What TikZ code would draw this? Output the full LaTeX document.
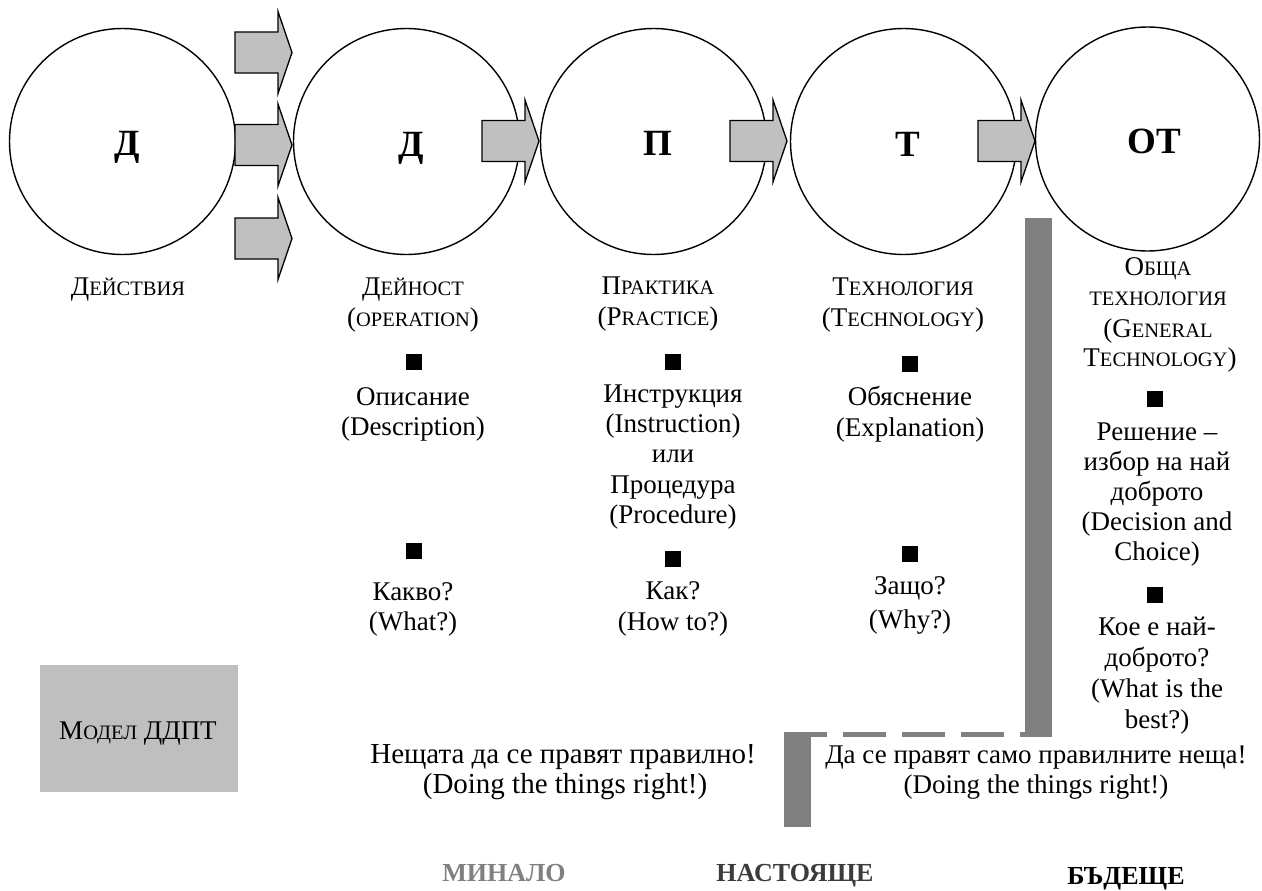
\documentclass[tikz,border=0pt]{standalone}
\usepackage{fontspec}
\setmainfont{Liberation Serif}
\definecolor{arrowgray}{RGB}{192,192,192}
\definecolor{boxgray}{RGB}{191,191,191}
\definecolor{bargray}{RGB}{128,128,128}
\definecolor{pastgray}{RGB}{128,128,128}
\definecolor{nowgray}{RGB}{60,60,60}
% small capitals faked with smaller upper-case letters
\newcommand\lowcaps[1]{{\fontsize{20.5}{30}\selectfont #1}}
\begin{document}
\begin{tikzpicture}[x=1pt,y=-1pt,
  bubble/.style={circle,draw,line width=1.4pt,minimum size=226pt,inner sep=0pt},
  bigletter/.style={anchor=base,inner sep=0pt,font=\fontsize{37}{40}\selectfont\bfseries},
  txt/.style={anchor=base,inner sep=0pt,font=\fontsize{27}{30}\selectfont},
  bigtxt/.style={anchor=base,inner sep=0pt,font=\fontsize{29}{32}\selectfont},
  era/.style={anchor=base,inner sep=0pt,font=\fontsize{26}{30}\selectfont\bfseries},
  bullet/.style={rectangle,fill=black,minimum size=16pt,inner sep=0pt},
  arrowstyle/.style={draw=black,fill=arrowgray,line width=1.3pt,line join=miter},
  blockarrow/.pic={\path[arrowstyle] (0,-20.5) -- (43,-20.5) -- (43,-41) -- (57,0)
      -- (43,41) -- (43,20.5) -- (0,20.5) -- cycle;},
  bar/.style={fill=bargray,draw=none}
]
\useasboundingbox (0,0) rectangle (1262,891);

% the five stages
\node[bubble] (c1) at (122.5,141.5) {};
\node[bubble] (c2) at (406.5,141.5) {};
\node[bubble] (c3) at (653.5,141.5) {};
\node[bubble] (c4) at (903.5,141.5) {};
\node[bubble,minimum size=224pt] (c5) at (1147.5,139) {};

\node[bigletter] (l1) at (127,155) {Д};
\node[bigletter] (l2) at (411,156) {Д};
\node[bigletter] (l3) at (658,155) {П};
\node[bigletter] (l4) at (908,157) {Т};
\node[bigletter] (l5) at (1154,153) {ОТ};

% block arrows between the stages
\pic at (235,52.5) {blockarrow};
\pic at (235,145) {blockarrow};
\pic at (235,238.5) {blockarrow};
\pic at (482,141) {blockarrow};
\pic at (730,141) {blockarrow};
\pic at (978,141) {blockarrow};

% column 1
\node[txt] (t1a) at (128,295) {Д\lowcaps{ЕЙСТВИЯ}};

% column 2
\node[txt] (t2a) at (413,295) {Д\lowcaps{ЕЙНОСТ}};
\node[txt] (t2b) at (413,326) {(\lowcaps{OPERATION})};
\node[bullet] (b2a) at (414,362) {};
\node[txt] (t2c) at (413,405) {Описание};
\node[txt] (t2d) at (413,435) {(Description)};
\node[bullet] (b2b) at (414,551) {};
\node[txt] (t2e) at (413,600) {Какво?};
\node[txt] (t2f) at (413,630) {(What?)};

% column 3
\node[txt] (t3a) at (658,294) {П\lowcaps{РАКТИКА}};
\node[txt] (t3b) at (658,325) {(P\lowcaps{RACTICE})};
\node[bullet] (b3a) at (673,362) {};
\node[txt] (t3c) at (673,402) {Инструкция};
\node[txt] (t3d) at (673,432) {(Instruction)};
\node[txt] (t3e) at (673,462) {или};
\node[txt] (t3f) at (673,493) {Процедура};
\node[txt] (t3g) at (673,523) {(Procedure)};
\node[bullet] (b3b) at (673,559) {};
\node[txt] (t3h) at (673,599) {Как?};
\node[txt] (t3i) at (673,630) {(How to?)};

% column 4
\node[txt] (t4a) at (903,295) {Т\lowcaps{ЕХНОЛОГИЯ}};
\node[txt] (t4b) at (903,326) {(T\lowcaps{ECHNOLOGY})};
\node[bullet] (b4a) at (910,364) {};
\node[txt] (t4c) at (910,405) {Обяснение};
\node[txt] (t4d) at (910,436) {(Explanation)};
\node[bullet] (b4b) at (910,554) {};
\node[txt] (t4e) at (910,594) {Защо?};
\node[txt] (t4f) at (910,628) {(Why?)};

% column 5
\node[txt] (t5a) at (1158,275) {О\lowcaps{БЩА}};
\node[txt] (t5b) at (1158,305) {\lowcaps{ТЕХНОЛОГИЯ}};
\node[txt] (t5c) at (1158,337) {(G\lowcaps{ENERAL}};
\node[txt] (t5d) at (1160,366) {T\lowcaps{ECHNOLOGY})};
\node[bullet] (b5a) at (1155,399) {};
\node[txt] (t5e) at (1157,440) {Решение –};
\node[txt] (t5f) at (1157,470) {избор на най};
\node[txt] (t5g) at (1157,500) {доброто};
\node[txt] (t5h) at (1157,530) {(Decision and};
\node[txt] (t5i) at (1157,560) {Choice)};
\node[bullet] (b5b) at (1155,595) {};
\node[txt] (t5j) at (1157,635) {Кое е най-};
\node[txt] (t5k) at (1157,666) {доброто?};
\node[txt] (t5l) at (1157,697) {(What is the};
\node[txt] (t5m) at (1157,728) {best?)};

% model label
\node[fill=boxgray,minimum width=198pt,minimum height=127pt,inner sep=0pt] (model) at (139,728.5) {};
\node[txt] (modeltext) at (138,739) {М\lowcaps{ОДЕЛ} ДДПТ};

% separator between present and future
\fill[bar] (1025,218) rectangle (1052,737);
\fill[bar] (784,732) rectangle (811,827);
\draw[bargray,line width=5pt,dash pattern=on 43pt off 16pt] (784,734.5) -- (1052,734.5);

% mottos
\node[bigtxt] (m1a) at (563,763) {Нещата да се правят правилно!};
\node[bigtxt] (m1b) at (565,793) {(Doing the things right!)};
\node[txt] (m2a) at (1036,763) {Да се правят само правилните неща!};
\node[txt] (m2b) at (1036,793) {(Doing the things right!)};

% time line
\node[era,text=pastgray] (past) at (504,881) {МИНАЛО};
\node[era,text=nowgray] (now) at (795,881) {НАСТОЯЩЕ};
\node[era] (future) at (1126,884) {БЪДЕЩЕ};
\end{tikzpicture}
\end{document}
